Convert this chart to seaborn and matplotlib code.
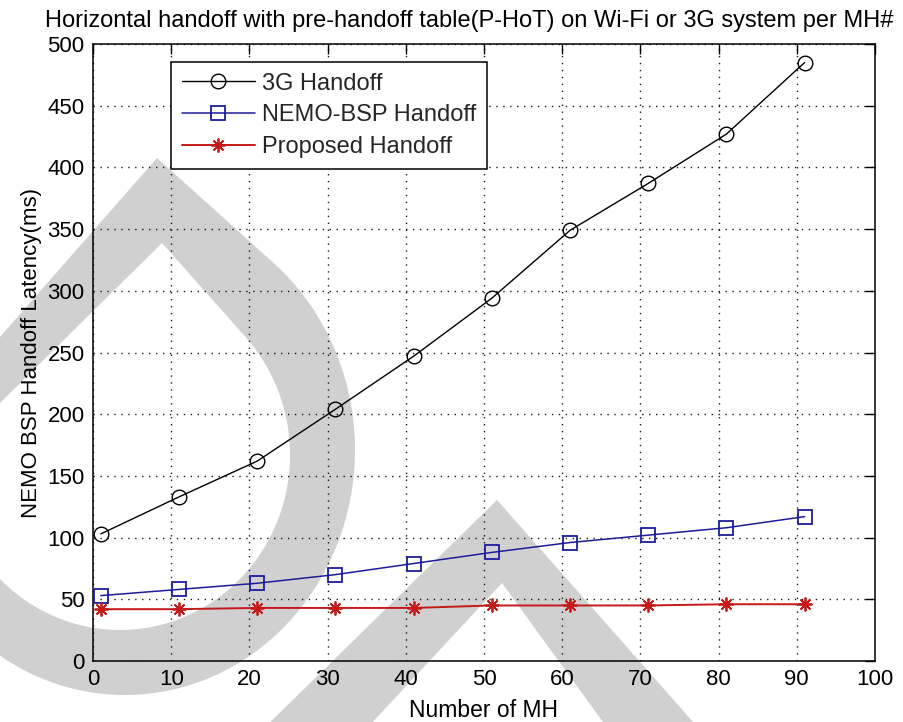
import numpy as np
import pandas as pd
import matplotlib
matplotlib.use("Agg")
import matplotlib.pyplot as plt
from matplotlib.patches import Polygon
import seaborn as sns

# ---- data -------------------------------------------------------------
mh = [1, 11, 21, 31, 41, 51, 61, 71, 81, 91]
handoff_3g = [103, 133, 162, 204, 247, 294, 349, 387, 427, 485]
nemo_bsp = [53, 58, 63, 70, 79, 88, 96, 102, 108, 117]
proposed = [42, 42, 43, 43, 43, 45, 45, 45, 46, 46]

series_names = ["3G Handoff", "NEMO-BSP Handoff", "Proposed Handoff"]
x_ticks = list(range(0, 101, 10))
y_ticks = list(range(0, 501, 50))

title_text = "Horizontal handoff with pre-handoff table(P-HoT) on Wi-Fi or 3G system per MH#"
x_label = "Number of MH"
y_label = "NEMO BSP Handoff Latency(ms)"

df = pd.DataFrame({
    "mh": mh * 3,
    "latency": handoff_3g + nemo_bsp + proposed,
    "scheme": [series_names[0]] * len(mh) + [series_names[1]] * len(mh)
              + [series_names[2]] * len(mh),
})

# ---- style ------------------------------------------------------------
sns.set_theme(style="white")
plt.rcParams["font.family"] = ["Liberation Sans", "DejaVu Sans"]
plt.rcParams["font.size"] = 16

W, H = 904, 722
fig = plt.figure(figsize=(W / 100, H / 100), dpi=100)
fig.patch.set_facecolor("white")

# ---- decorative background emblem (pixel space, y downward) ----------
bg = fig.add_axes([0, 0, 1, 1], zorder=-5)
bg.set_xlim(0, W)
bg.set_ylim(H, 0)
bg.axis("off")
emblem = "#d0d0d0"


def drop_outline(apex, through, cx, cy, a, b):
    """Pointed drop: tangent from apex onto an ellipse, arc round the
    bottom, and a straight edge back to the apex through `through`."""
    px, py = apex
    ux, uy = (px - cx) / a, (py - cy) / b
    t0 = np.arctan2(uy, ux) + np.arccos(1.0 / np.hypot(ux, uy))
    t = np.linspace(t0, np.pi, 200)
    arc = np.column_stack([cx + a * np.cos(t), cy + b * np.sin(t)])
    slope = (through[1] - py) / (through[0] - px)
    xl = cx - a
    back = [(xl, py + (xl - px) * slope)]
    return np.vstack([[apex], arc, back])


outer = drop_outline((157, 158), (0, 337), 125, 450, 230, 245)
inner = drop_outline((162, 243), (0, 403), 120, 455, 170, 175)
bg.add_patch(Polygon(outer, closed=True, facecolor=emblem, edgecolor="none"))
bg.add_patch(Polygon(inner, closed=True, facecolor="white", edgecolor="none"))
chevron = [(252, 740), (497, 500), (709, 740), (616, 740), (502, 583), (356, 740)]
bg.add_patch(Polygon(chevron, closed=True, facecolor=emblem, edgecolor="none"))

# ---- main axes --------------------------------------------------------
left, right, top, bottom = 93, 875, 44, 661
ax = fig.add_axes([left / W, 1 - bottom / H, (right - left) / W, (bottom - top) / H],
                  zorder=1)
ax.set_facecolor("none")

red = "#c41a1a"
navy = "#1c1c9a"
styles = {
    series_names[0]: dict(color="black", marker="o", markersize=10.5,
                          markerfacecolor="none", markeredgecolor="black",
                          markeredgewidth=1.0, linewidth=1.0),
    series_names[1]: dict(color=navy, marker="s", markersize=10,
                          markerfacecolor="none", markeredgecolor=navy,
                          markeredgewidth=1.3, linewidth=1.1),
    series_names[2]: dict(color=red, marker=(8, 2, 0), markersize=10,
                          markerfacecolor=red, markeredgecolor=red,
                          markeredgewidth=1.3, linewidth=1.4),
}

for name in series_names:
    sub = df[df["scheme"] == name]
    sns.lineplot(data=sub, x="mh", y="latency", ax=ax, label=name,
                 estimator=None, sort=False, zorder=3, **styles[name])

ax.set_xlim(0, 100)
ax.set_ylim(0, 500)
ax.set_xticks(x_ticks)
ax.set_yticks(y_ticks)
ax.set_xticklabels([str(v) for v in x_ticks])
ax.set_yticklabels([str(v) for v in y_ticks])

ax.grid(True, color="black", linestyle=(0, (1, 4)), linewidth=1.0, alpha=0.9)
ax.tick_params(direction="in", length=7, width=1.0, top=True, right=True,
               labelsize=16, colors="black", pad=6)
for sp in ax.spines.values():
    sp.set_visible(True)
    sp.set_color("black")
    sp.set_linewidth(1.1)

ax.set_title(title_text, fontsize=17, pad=12, color="black", x=0.481)
ax.set_xlabel(x_label, fontsize=16.5, labelpad=6, color="black")
ax.set_ylabel(y_label, fontsize=16, labelpad=4, color="black")

leg = ax.legend(loc="upper left", bbox_to_anchor=(0.0997, 0.971),
                frameon=True, fancybox=False, framealpha=1.0,
                edgecolor="black", facecolor="white", fontsize=17,
                handlelength=3.1, handletextpad=0.3, labelspacing=0.42,
                borderpad=0.45, borderaxespad=0.0)
leg.get_frame().set_linewidth(1.1)

fig.savefig("out.png", dpi=100)
